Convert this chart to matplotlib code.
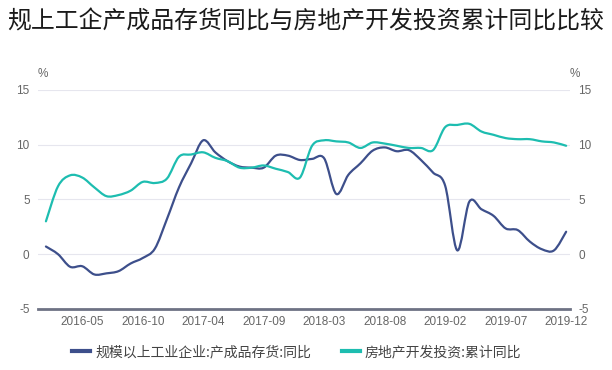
import numpy as np
import matplotlib
matplotlib.use("Agg")
import matplotlib.pyplot as plt
from matplotlib.path import Path
from matplotlib.patches import PathPatch
from matplotlib.lines import Line2D

plt.rcParams['font.family'] = ['Noto Sans CJK SC', 'DejaVu Sans']

# monthly categories (January not reported)
months = [f"{y}-{m:02d}" for y in (2016, 2017, 2018, 2019) for m in range(2, 13)]

# 规模以上工业企业:产成品存货:同比
inventory = [0.7, 0.0, -1.15, -1.1, -1.85, -1.75, -1.55, -0.85, -0.35, 0.5, 3.2,
             6.1, 8.3, 10.4, 9.3, 8.5, 8.0, 7.9, 7.9, 9.0, 9.0, 8.6,
             8.7, 8.75, 5.5, 7.25, 8.3, 9.45, 9.75, 9.4, 9.5, 8.6, 7.45,
             6.25, 0.35, 4.8, 4.1, 3.5, 2.35, 2.2, 1.15, 0.45, 0.35, 2.05]

# 房地产开发投资:累计同比
realestate = [3.0, 6.2, 7.2, 7.0, 6.1, 5.3, 5.4, 5.8, 6.6, 6.5, 6.9,
              8.9, 9.1, 9.3, 8.8, 8.5, 7.9, 7.9, 8.1, 7.8, 7.5, 7.0,
              9.9, 10.4, 10.3, 10.2, 9.7, 10.2, 10.1, 9.9, 9.7, 9.7, 9.5,
              11.6, 11.8, 11.9, 11.2, 10.9, 10.6, 10.5, 10.5, 10.3, 10.2, 9.9]

label_step = 5
label_start = 3
yticks = [-5, 0, 5, 10, 15]

blue = "#3d4f8b"
teal = "#1dbdb0"
tick_font = ['Liberation Sans', 'DejaVu Sans']


def smooth_path(x, y, k=1 / 6):
    # cubic bezier through every data point (like a "smooth" line option)
    p = np.column_stack([x, y]).astype(float)
    n = len(p)
    verts = [p[0]]
    codes = [Path.MOVETO]
    for i in range(n - 1):
        prev = p[i - 1] if i > 0 else p[i]
        nxt = p[i + 2] if i + 2 < n else p[i + 1]
        c1 = p[i] + (p[i + 1] - prev) * k
        c2 = p[i + 1] - (nxt - p[i]) * k
        verts += [c1, c2, p[i + 1]]
        codes += [Path.CURVE4] * 3
    return Path(verts, codes)


fig = plt.figure(figsize=(6.12, 3.70), dpi=100)
ax = fig.add_axes([0.062, 0.165, 0.869, 0.592])
ax2 = ax.twinx()

x = np.arange(len(months))
ax.add_patch(PathPatch(smooth_path(x, inventory), fill=False, ec=blue, lw=1.6,
                       capstyle='round', joinstyle='round', zorder=3))
ax2.add_patch(PathPatch(smooth_path(x, realestate), fill=False, ec=teal, lw=1.6,
                        capstyle='round', joinstyle='round', zorder=3))

for a in (ax, ax2):
    a.set_xlim(-0.66, len(months) - 1 + 0.3)
    a.set_ylim(-5, 15)
    a.set_yticks(yticks)
    a.set_yticklabels([str(t) for t in yticks], family=tick_font)
    for s in a.spines.values():
        s.set_visible(False)
    a.tick_params(length=0, labelsize=8.5, labelcolor="#666666", pad=6)

ax.spines['bottom'].set_visible(True)
ax.spines['bottom'].set_color("#6e7284")
ax.spines['bottom'].set_linewidth(2)
ax.grid(axis='y', color="#e6e6ee", lw=0.8)
ax.set_axisbelow(True)

ticks = x[label_start::label_step]
ax.set_xticks(ticks)
ax.set_xticklabels([months[i] for i in ticks], family=tick_font)
ax.tick_params(axis='x', pad=5)

ax.text(0.0, 1.06, "%", transform=ax.transAxes, fontsize=8.5, color="#666666",
        ha='left', family=tick_font)
ax2.text(1.0, 1.06, "%", transform=ax2.transAxes, fontsize=8.5, color="#666666",
         ha='left', family=tick_font)

fig.text(0.012, 0.94, "规上工企产成品存货同比与房地产开发投资累计同比比较",
         fontsize=17.2, color="#1a1a1a", ha='left', va='center')

handles = [Line2D([], [], color=blue, lw=3), Line2D([], [], color=teal, lw=3)]
fig.legend(handles, ["规模以上工业企业:产成品存货:同比", "房地产开发投资:累计同比"],
           loc='center', bbox_to_anchor=(0.485, 0.048), ncol=2, frameon=False,
           fontsize=10, handlelength=1.3, columnspacing=2.2, handletextpad=0.35,
           labelcolor="#444444")

fig.savefig("out.png", dpi=100)
